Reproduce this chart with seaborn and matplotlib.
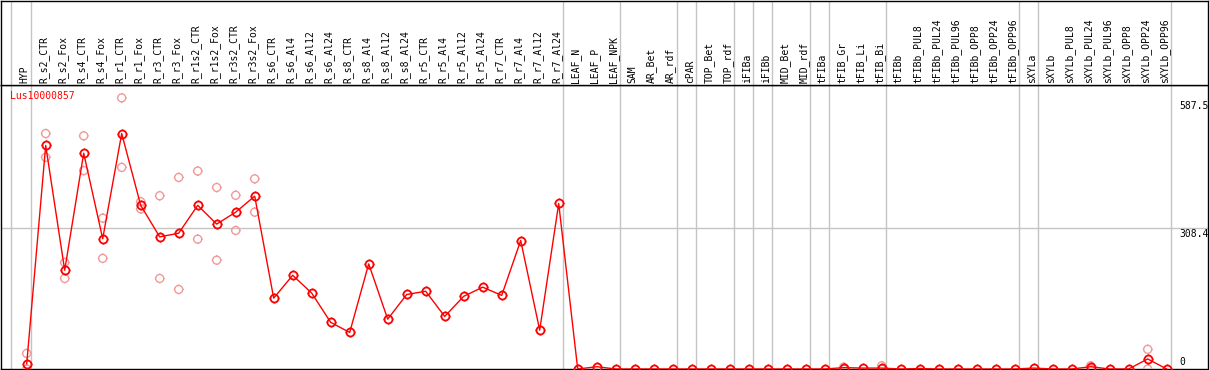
import numpy as np
import pandas as pd
import matplotlib
matplotlib.use("Agg")
import matplotlib.pyplot as plt
import seaborn as sns
from matplotlib.path import Path

sns.set_theme(style="white")
plt.rcParams["font.family"] = ["DejaVu Sans Mono"]

# ---------------- data ----------------
categories = [
    "HYP", "R_s2_CTR", "R_s2_Fox", "R_s4_CTR", "R_s4_Fox", "R_r1_CTR", "R_r1_Fox",
    "R_r3_CTR", "R_r3_Fox", "R_r1s2_CTR", "R_r1s2_Fox", "R_r3s2_CTR", "R_r3s2_Fox",
    "R_s6_CTR", "R_s6_Al4", "R_s6_Al12", "R_s6_Al24", "R_s8_CTR", "R_s8_Al4",
    "R_s8_Al12", "R_s8_Al24", "R_r5_CTR", "R_r5_Al4", "R_r5_Al12", "R_r5_Al24",
    "R_r7_CTR", "R_r7_Al4", "R_r7_Al12", "R_r7_Al24", "LEAF_N", "LEAF_P", "LEAF_NPK",
    "SAM", "AR_Bet", "AR_rdf", "cPAR", "TOP_Bet", "TOP_rdf", "iFIBa", "iFIBb",
    "MID_Bet", "MID_rdf", "tFIBa", "tFIB_Gr", "tFIB_Li", "tFIB_Bi", "tFIBb",
    "tFIBb_PUL8", "tFIBb_PUL24", "tFIBb_PUL96", "tFIBb_OPP8", "tFIBb_OPP24",
    "tFIBb_OPP96", "sXYLa", "sXYLb", "sXYLb_PUL8", "sXYLb_PUL24", "sXYLb_PUL96",
    "sXYLb_OPP8", "sXYLb_OPP24", "sXYLb_OPP96",
]
mean_values = [
    11, 489, 216, 472, 285, 515, 358, 289, 297, 358, 317, 343, 378,
    155, 205, 166, 102, 80, 230, 109, 163, 170, 115, 159, 179, 161, 281, 85, 362,
    0, 5, 0,
    0, 0, 0, 0, 0, 0, 0, 0, 0, 0, 0,
    3, 2, 2, 0, 1, 0, 0, 0, 0, 0,
    2, 0, 0, 5, 0, 0, 22, 0,
]
rep_categories = ["HYP", "R_s2_CTR", "R_s2_Fox", "R_s4_CTR", "R_s4_Fox", "R_r1_CTR",
                  "R_r1_Fox", "R_r3_CTR", "R_r3_Fox", "R_r1s2_CTR", "R_r1s2_Fox",
                  "R_r3s2_CTR", "R_r3s2_Fox", "tFIB_Gr", "tFIB_Bi", "sXYLb_PUL24",
                  "sXYLb_OPP24"]
rep_high = [34, 515, 233, 510, 330, 593, 366, 379, 419, 433, 397, 380, 416, 4, 7, 7, 43]
rep_low = [0, 463, 198, 434, 242, 441, 350, 198, 174, 284, 238, 303, 343, 0, 0, 0, 0]
group_sizes = [1, 28, 3, 3, 1, 2, 1, 1, 2, 1, 3, 7, 1, 7]
y_tick_values = [0, 308.4, 587.5]
y_tick_labels = ["0", "308.4", "587.5"]
title = "Lus10000857"

# ---------------- layout ----------------
W, H = 1209, 370
HEADER = 85
COL0, STEP = 26.7, 19.0          # pixel x of first column, pixel step
PX_PER_UNIT = 0.4572

fig = plt.figure(figsize=(W / 100, H / 100), dpi=100)
fig.patch.set_facecolor("white")
plot_h = H - 1 - HEADER
ax = fig.add_axes([1 / W, 1 / H, (W - 2) / W, plot_h / H])
hx = fig.add_axes([1 / W, (H - HEADER) / H, (W - 2) / W, (HEADER - 1) / H])

xlim = ((1 - COL0) / STEP, (W - 1 - COL0) / STEP)
for a in (ax, hx):
    a.set_xlim(*xlim)
    a.set_xticks([])
    a.set_yticks([])
    a.set_facecolor("white")
    for s in a.spines.values():
        s.set_color("black")
        s.set_linewidth(1.0)
ax.set_ylim(0, plot_h / PX_PER_UNIT)
hx.set_ylim(0, 1)

grey = "#c4c4c4"
# group separators
seps = [-0.84] + list(np.cumsum(group_sizes) - 1 + 0.21)
for sx in seps:
    ax.axvline(sx, color=grey, lw=1.0, zorder=1)
    hx.axvline(sx, color=grey, lw=1.0, zorder=1)
ax.axhline(308.4, color=grey, lw=1.0, zorder=1)

# marker: open circle (polygon) with four tiny ticks
ang = np.linspace(0, 2 * np.pi, 33)
circ_v = list(zip(np.cos(ang), np.sin(ang)))
circ_c = [Path.MOVETO] + [Path.LINETO] * 31 + [Path.CLOSEPOLY]
tick_v = [(0, 1), (0, 1.22), (0, -1), (0, -1.22), (1, 0), (1.22, 0), (-1, 0), (-1.22, 0)]
tick_c = [Path.MOVETO, Path.LINETO] * 4
mk = Path(circ_v + tick_v, circ_c + tick_c)

xpos = {c: i for i, c in enumerate(categories)}
df_mean = pd.DataFrame({"x": np.arange(len(categories)), "y": mean_values})
df_rep = pd.DataFrame({
    "x": [xpos[c] for c in rep_categories] * 2,
    "y": rep_high + rep_low,
})

pink = "#f09a9a"
sns.scatterplot(data=df_rep, x="x", y="y", ax=ax, marker=mk, s=49, color=pink,
                linewidth=1.0, zorder=3, legend=False)
coll = ax.collections[-1]
coll.set_facecolor("none")
coll.set_edgecolor(pink)

sns.lineplot(data=df_mean, x="x", y="y", ax=ax, color="red", linewidth=1.0,
             marker=mk, markersize=7.0, markerfacecolor="none",
             markeredgecolor="red", markeredgewidth=1.3, errorbar=None,
             sort=False, zorder=4, legend=False)
ax.set_xlabel("")
ax.set_ylabel("")
ax.set_xlim(*xlim)
ax.set_ylim(0, plot_h / PX_PER_UNIT)

# header labels
for i, c in enumerate(categories):
    hx.text(i - 0.1, 2 / (HEADER - 1), c, rotation=90, ha="center", va="bottom",
            fontsize=7, color="black")

# y value labels (right side)
lab_x = (1179 - COL0) / STEP
for v, t in zip(y_tick_values, y_tick_labels):
    if v == 0:
        ax.annotate(t, xy=(lab_x, v), xytext=(0, 2), textcoords="offset pixels",
                    ha="left", va="bottom", fontsize=7, color="black", annotation_clip=False)
    else:
        ax.annotate(t, xy=(lab_x, v), xytext=(0, -1), textcoords="offset pixels",
                    ha="left", va="top", fontsize=7, color="black", annotation_clip=False)

# title
ax.text((10 - 1) / (W - 2), 1 - 6 / plot_h, title, transform=ax.transAxes,
        ha="left", va="top", fontsize=7, color="red")

fig.savefig("out.png", dpi=100, facecolor="white")
